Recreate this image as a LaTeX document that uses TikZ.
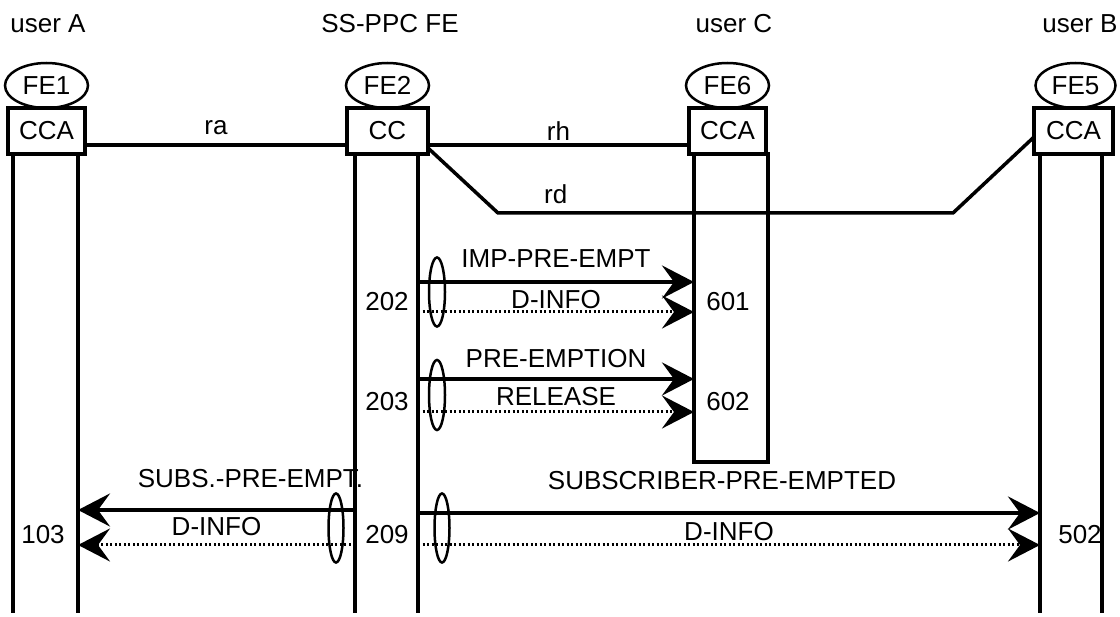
\documentclass[tikz,border=0pt]{standalone}
\usepackage{fontspec}
\setmainfont{Liberation Sans}
\usetikzlibrary{arrows.meta,positioning,shapes.geometric}

\begin{document}
\begin{tikzpicture}[
  x=1pt,y=-1pt,
  font=\fontsize{26}{31}\selectfont,
  unit/.style={draw,line width=3.5pt,minimum height=46pt,inner sep=0pt,outer sep=0pt},
  fe/.style={ellipse,draw,line width=2.5pt,minimum width=83pt,minimum height=45pt,inner sep=0pt,outer sep=0pt},
  life/.style={line width=3.5pt},
  link/.style={line width=3.5pt},
  msg/.style={-{Stealth[length=32pt,width=33pt,inset=12pt]},line width=4pt},
  info/.style={msg,line width=3pt,dash pattern=on 2pt off 2.5pt},
  tie/.style={ellipse,draw,line width=2.5pt,minimum width=16pt,minimum height=69pt,inner sep=0pt},
  lbl/.style={inner sep=0pt}
]
  \useasboundingbox (0,0) rectangle (1120,617);

  \node[lbl] (userA) at (48,24) {user A};
  \node[lbl] (ssppc) at (390,24) {SS-PPC FE};
  \node[lbl] (userC) at (734,24) {user C};
  \node[lbl] (userB) at (1080,24) {user B};

  \node[unit,minimum width=77pt] (cca1) at (46.5,131) {CCA};
  \node[unit,minimum width=81pt] (cc2) at (387.5,131) {CC};
  \node[unit,minimum width=77pt] (cca6) at (727.5,131) {CCA};
  \node[unit,minimum width=79pt] (cca5) at (1073.5,131) {CCA};

  \node[fe,above=0pt of cca1] (fe1) {FE1};
  \node[fe,above=0pt of cc2] (fe2) {FE2};
  \node[fe,above=0pt of cca6] (fe6) {FE6};
  \node[fe,minimum width=80pt,above=0pt of cca5,xshift=2pt] (fe5) {FE5};

  \coordinate (a1) at (13,613);
  \coordinate (a2) at (78,613);
  \coordinate (b1) at (355,613);
  \coordinate (b2) at (418,613);
  \coordinate (e1) at (1040,613);
  \coordinate (e2) at (1102,613);
  \node[unit,minimum width=74pt,minimum height=308pt,anchor=north] (col6) at (731,154) {};

  \draw[life] (a1 |- cca1.south) -- (a1);
  \draw[life] (a2 |- cca1.south) -- (a2);
  \draw[life] (b1 |- cc2.south) -- (b1);
  \draw[life] (b2 |- cc2.south) -- (b2);
  \draw[life] (e1 |- cca5.south) -- (e1);
  \draw[life] (e2 |- cca5.south) -- (e2);

  \coordinate (rdA) at (498,213);
  \coordinate (rdB) at (953,213);
  \draw[link] ([yshift=-14pt]cca1.east) -- node[lbl,above=8pt] {ra} ([yshift=-14pt]cc2.west);
  \draw[link] ([yshift=-14pt]cc2.east) -- node[lbl,above=3pt] {rh} ([yshift=-14pt]cca6.west);
  \draw[link] ([yshift=-17pt]cc2.east) -- (rdA) -- node[lbl,pos=0.127,above=7pt] {rd} (rdB) -- ([yshift=-6pt]cca5.west);

  \coordinate (m1) at (0,282);
  \coordinate (m2) at (0,312);
  \coordinate (m3) at (0,379);
  \coordinate (m4) at (0,412);
  \coordinate (m5) at (0,510);
  \coordinate (m6) at (0,545);
  \coordinate (m7) at (0,513);

  \draw[msg] (b2 |- m1) -- node[lbl,above=12pt] {IMP-PRE-EMPT} (col6.west |- m1);
  \draw[info] (b2 |- m2) -- node[lbl,above=2pt] {D-INFO} (col6.west |- m2);
  \draw[msg] (b2 |- m3) -- node[lbl,above=9pt] {PRE-EMPTION} (col6.west |- m3);
  \draw[info] (b2 |- m4) -- node[lbl,above=5pt] {RELEASE} (col6.west |- m4);
  \draw[msg] (b1 |- m5) -- node[lbl,above=20pt,xshift=34pt] {SUBS.-PRE-EMPT.} (a2 |- m5);
  \draw[info] (b1 |- m6) -- node[lbl,above=8pt] {D-INFO} (a2 |- m6);
  \draw[msg] (b2 |- m7) -- node[lbl,above=21pt,xshift=-7pt] {SUBSCRIBER-PRE-EMPTED} (e1 |- m7);
  \draw[info] (b2 |- m6) -- node[lbl,above=3pt] {D-INFO} (e1 |- m6);

  \node[tie] (tie202) at (437,292) {};
  \node[tie,minimum height=70pt] (tie203) at (437,395) {};
  \node[tie,minimum width=15pt] (tie209a) at (336,528) {};
  \node[tie,minimum width=15pt] (tie209b) at (442,528) {};

  \node[lbl] (n202) at (387,302) {202};
  \node[lbl] (n601) at (728,302) {601};
  \node[lbl] (n203) at (387,402) {203};
  \node[lbl] (n602) at (728,402) {602};
  \node[lbl] (n103) at (43,535) {103};
  \node[lbl] (n209) at (387,535) {209};
  \node[lbl] (n502) at (1080,535) {502};
\end{tikzpicture}
\end{document}
